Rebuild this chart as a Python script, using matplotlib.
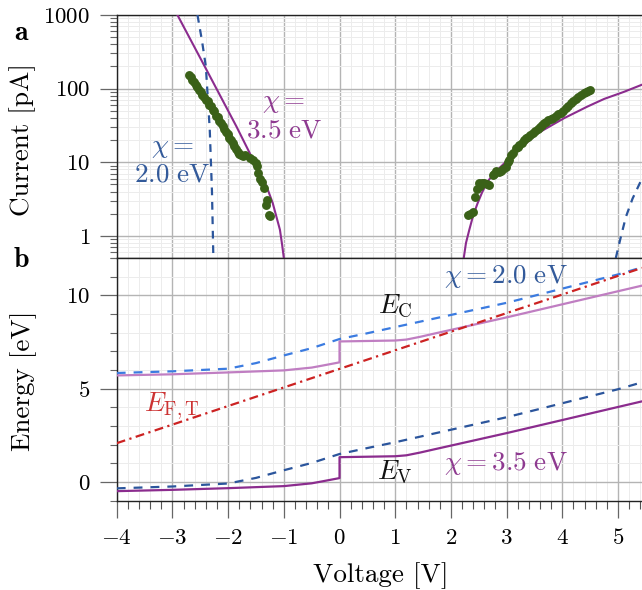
import matplotlib
matplotlib.use("Agg")
import matplotlib.pyplot as plt
from matplotlib.ticker import FixedLocator, MultipleLocator, NullFormatter, FixedFormatter

plt.rcParams['font.family'] = 'serif'
plt.rcParams['font.serif'] = ['cmr10']
plt.rcParams['mathtext.fontset'] = 'cm'
plt.rcParams['axes.formatter.use_mathtext'] = True
plt.rcParams['axes.unicode_minus'] = True
plt.rcParams['xtick.major.size'] = 12
plt.rcParams['ytick.major.size'] = 12
plt.rcParams['xtick.minor.size'] = 6
plt.rcParams['ytick.minor.size'] = 5
plt.rcParams['xtick.major.pad'] = 8
plt.rcParams['ytick.major.pad'] = 7
plt.rcParams['xtick.labelsize'] = 16.5
plt.rcParams['ytick.labelsize'] = 16.5

# ---------------- data: panel a (current) ----------------
meas_left_v = [-2.70, -2.67, -2.64, -2.61, -2.58, -2.55, -2.52, -2.49, -2.46, -2.43,
               -2.40, -2.37, -2.34, -2.31, -2.28, -2.25, -2.22, -2.19, -2.16, -2.13,
               -2.10, -2.07, -2.04, -2.01, -1.98, -1.95, -1.92, -1.89, -1.86, -1.83,
               -1.80, -1.77, -1.74, -1.70, -1.61, -1.56, -1.50, -1.48, -1.46, -1.43,
               -1.40, -1.36, -1.32, -1.30, -1.27, -1.24]
meas_left_i = [153, 142, 131, 123, 112, 106, 96, 91, 82, 78,
               71, 67, 60, 58, 52, 49, 43, 41, 36, 34,
               31, 28.5, 25.5, 24, 21.5, 20, 18, 16.8, 15, 13.8,
               12.8, 12.4, 12.0, 12.6, 11.4, 10.6, 9.7, 8.9, 7.1, 5.9,
               5.4, 4.5, 2.6, 3.1, 1.93, 1.87]
meas_right_v = [2.31, 2.34, 2.39, 2.43, 2.47, 2.51, 2.53, 2.56, 2.60, 2.64,
                2.69, 2.75, 2.78, 2.81, 2.86, 2.90, 2.94, 2.99, 3.02, 3.05,
                3.08, 3.12, 3.17, 3.20, 3.23, 3.27, 3.32, 3.35, 3.38, 3.42,
                3.47, 3.51, 3.56, 3.59, 3.63, 3.67, 3.71, 3.75, 3.80, 3.84,
                3.89, 3.93, 3.98, 4.02, 4.07, 4.11, 4.15, 4.20, 4.24, 4.29,
                4.33, 4.38, 4.42, 4.46, 4.50]
meas_right_i = [1.93, 2.0, 2.08, 3.4, 4.3, 5.2, 4.7, 5.3, 5.2, 5.0,
                4.9, 6.7, 7.0, 7.7, 7.3, 7.5, 8.2, 8.6, 10.2, 10.8,
                12.6, 13.4, 15.5, 16.0, 17.2, 18.0, 20.1, 21.5, 22.3, 23.5,
                24.8, 26.5, 28.1, 30.0, 32.1, 34.0, 35.6, 37.0, 38.4, 40.5,
                42.6, 44.5, 46.4, 50.0, 54.2, 58.5, 63.4, 67.0, 71.8, 77.0,
                82.2, 86.5, 91.1, 94.0, 96.0]

fit35_left_v = [-2.91, -2.42, -1.85, -1.58, -1.31, -1.20, -1.07, -1.03, -1.00]
fit35_left_i = [1000, 200, 30.5, 11.9, 4.7, 2.8, 1.21, 0.75, 0.5]
fit35_right_v = [2.23, 2.27, 2.33, 2.40, 2.48, 2.56, 2.66, 2.80, 2.96, 3.20, 3.56, 4.03, 4.45, 4.75, 5.10, 5.43]
fit35_right_i = [0.5, 0.8, 1.21, 1.9, 2.79, 3.9, 5.5, 7.4, 9.7, 14.5, 24.8, 39.6, 57, 72.4, 90, 113]

fit20_left_v = [-2.55, -2.47, -2.40, -2.33, -2.29, -2.265]
fit20_left_i = [1000, 450, 200, 28, 4, 0.5]
fit20_right_v = [4.96, 5.04, 5.14, 5.26, 5.43]
fit20_right_i = [0.5, 0.9, 1.8, 3.2, 6.0]

# ---------------- data: panel b (energy) ----------------
ec35_v = [-4, -3, -2, -1, -0.5, -0.3, 0, 0, 1.0, 1.2, 1.45, 1.7, 2, 3, 4, 5, 5.43]
ec35_e = [5.71, 5.77, 5.87, 5.98, 6.13, 6.24, 6.41, 7.53, 7.58, 7.63, 7.78, 7.95, 8.15, 8.82, 9.52, 10.22, 10.52]
ev35_v = [-4, -3, -2, -1, -0.5, -0.3, 0, 0, 1.0, 1.2, 1.45, 1.7, 2, 3, 4, 5, 5.43]
ev35_e = [-0.49, -0.42, -0.33, -0.22, -0.07, 0.04, 0.21, 1.33, 1.38, 1.43, 1.58, 1.75, 1.95, 2.62, 3.32, 4.02, 4.32]
ec20_v = [-4, -3, -2, -1.5, -1, -0.5, 0, 0.5, 1, 2, 3, 4, 5, 5.43]
ec20_e = [5.84, 5.93, 6.07, 6.37, 6.78, 7.17, 7.66, 7.97, 8.30, 8.95, 9.60, 10.36, 11.12, 11.50]
ev20_v = [-4, -3, -2, -1.5, -1, -0.5, 0, 0.5, 1, 2, 3, 4, 5, 5.43]
ev20_e = [-0.34, -0.24, -0.08, 0.22, 0.63, 1.02, 1.50, 1.82, 2.13, 2.80, 3.47, 4.22, 4.97, 5.34]
eft_v = [-4, 0, 5.43]
eft_e = [2.08, 6.06, 11.47]

x_ticks = [-4, -3, -2, -1, 0, 1, 2, 3, 4, 5]
x_labels = [r'$-4$', r'$-3$', r'$-2$', r'$-1$', r'$0$', r'$1$', r'$2$', r'$3$', r'$4$', r'$5$']
ya_ticks = [1, 10, 100, 1000]
ya_labels = [r'$1$', r'$10$', r'$100$', r'$1000$']
yb_ticks = [0, 5, 10]
yb_labels = [r'$0$', r'$5$', r'$10$']

# ---------------- style ----------------
purple = '#8b2c8e'
lpurple = '#c07ec2'
dblue = '#2b559c'
lblue = '#3b7be0'
red = '#cc2222'
green = '#3a6118'
blue_txt = '#335a9a'
purple_txt = '#8e3a90'
red_txt = '#cc3333'

LAB = 19.5
TICK = 16.5

fig = plt.figure(figsize=(6.42, 5.90), dpi=100)
ax1 = fig.add_axes([0.1818, 0.5627, 0.8182, 0.4119])
ax2 = fig.add_axes([0.1818, 0.1514, 0.8182, 0.4113])

ax1.set_yscale('log')
ax1.set_ylim(0.5, 1000)
ax2.set_ylim(-1, 12)

for ax in (ax1, ax2):
    ax.set_xlim(-4, 5.43)
    ax.xaxis.set_major_locator(FixedLocator(x_ticks))
    ax.xaxis.set_minor_locator(MultipleLocator(0.2))
    ax.spines['right'].set_visible(False)
    for s in ('left', 'top', 'bottom'):
        ax.spines[s].set_color('#222222')
        ax.spines[s].set_linewidth(1.0)

ax1.yaxis.set_major_locator(FixedLocator(ya_ticks))
ax1.yaxis.set_major_formatter(FixedFormatter(ya_labels))
ax1.yaxis.set_minor_locator(FixedLocator([m * d for d in (0.1, 1, 10, 100) for m in range(2, 10)]))
ax1.yaxis.set_minor_formatter(NullFormatter())
ax2.yaxis.set_major_locator(FixedLocator(yb_ticks))
ax2.yaxis.set_major_formatter(FixedFormatter(yb_labels))
ax2.yaxis.set_minor_locator(MultipleLocator(1))
ax2.xaxis.set_major_formatter(FixedFormatter(x_labels))

for ax in (ax1, ax2):
    ax.xaxis.grid(True, which='major', color='#b4b4b4', lw=1.0)
    ax.yaxis.grid(True, which='major', color='#b4b4b4', lw=1.0)
    ax.xaxis.grid(True, which='minor', color='#ececec', lw=0.7)
    ax.yaxis.grid(True, which='minor', color='#ececec', lw=0.7)
    ax.set_axisbelow(True)

for ax in (ax1, ax2):
    ax.tick_params(axis='y', which='major', direction='out', length=12, width=0.9,
                   color='#666666', labelsize=TICK, pad=7)
    ax.tick_params(axis='y', which='minor', direction='out', length=5, width=0.8, color='#666666')
ax1.tick_params(axis='x', which='both', length=0, labelbottom=False)
ax2.tick_params(axis='x', which='major', direction='out', length=12, width=0.9,
                color='#666666', labelsize=TICK, pad=8)
ax2.tick_params(axis='x', which='minor', direction='out', length=6, width=0.8, color='#555555')

ax1.plot(fit35_left_v, fit35_left_i, color=purple, lw=1.5, zorder=3)
ax1.plot(fit35_right_v, fit35_right_i, color=purple, lw=1.5, zorder=3)
ax1.plot(fit20_left_v, fit20_left_i, color=dblue, lw=1.6, dashes=(3.5, 3), zorder=3)
ax1.plot(fit20_right_v, fit20_right_i, color=dblue, lw=1.6, dashes=(3.5, 3), zorder=3)
ax1.plot(meas_left_v, meas_left_i, 'o', color=green, ms=6.4, mew=0, zorder=4)
ax1.plot(meas_right_v, meas_right_i, 'o', color=green, ms=6.4, mew=0, zorder=4)

ax1.text(-3.0, 15.7, r'$\chi =$', color=blue_txt, fontsize=LAB, ha='center', va='center')
ax1.text(-3.0, 6.7, r'$2.0\ \mathrm{eV}$', color=blue_txt, fontsize=LAB, ha='center', va='center')
ax1.text(-1.0, 64, r'$\chi =$', color=purple_txt, fontsize=LAB, ha='center', va='center')
ax1.text(-1.0, 26.7, r'$3.5\ \mathrm{eV}$', color=purple_txt, fontsize=LAB, ha='center', va='center')

ax2.plot(ec35_v, ec35_e, color=lpurple, lw=1.6, zorder=3)
ax2.plot(ev35_v, ev35_e, color=purple, lw=1.6, zorder=3)
ax2.plot(ec20_v, ec20_e, color=lblue, lw=1.6, dashes=(4, 3.6), zorder=3)
ax2.plot(ev20_v, ev20_e, color=dblue, lw=1.6, dashes=(4, 3.6), zorder=3)
ax2.plot(eft_v, eft_e, color=red, lw=1.6, dashes=(4, 2, 1, 2), zorder=3)

ax2.text(2.985, 11.0, r'$\chi = 2.0\ \mathrm{eV}$', color=blue_txt, fontsize=LAB, ha='center', va='center')
ax2.text(2.995, 0.98, r'$\chi = 3.5\ \mathrm{eV}$', color=purple_txt, fontsize=LAB, ha='center', va='center')
ax2.text(0.994, 9.46, r'$E_{\mathrm{C}}$', color='#111111', fontsize=LAB, ha='center', va='center')
ax2.text(1.0, 0.55, r'$E_{\mathrm{V}}$', color='#111111', fontsize=LAB, ha='center', va='center')
ax2.text(-3.0, 4.03, r'$E_{\mathrm{F,T}}$', color=red_txt, fontsize=LAB, ha='center', va='center')

W, H = 642.0, 590.0
fig.text(22.5 / W, 1 - 140 / H, 'Current [pA]', rotation=90, fontsize=LAB, ha='center', va='center')
fig.text(24 / W, 1 - 381 / H, 'Energy [eV]', rotation=90, fontsize=LAB, ha='center', va='center')
fig.text(381 / W, 1 - 576 / H, 'Voltage [V]', fontsize=LAB, ha='center', va='center')
fig.text(21.5 / W, 1 - 33 / H, r'$\mathbf{a}$', fontsize=20, ha='center', va='center')
fig.text(21 / W, 1 - 260 / H, r'$\mathbf{b}$', fontsize=20, ha='center', va='center')

fig.canvas.draw()
fig.savefig('out.png', dpi=100)
